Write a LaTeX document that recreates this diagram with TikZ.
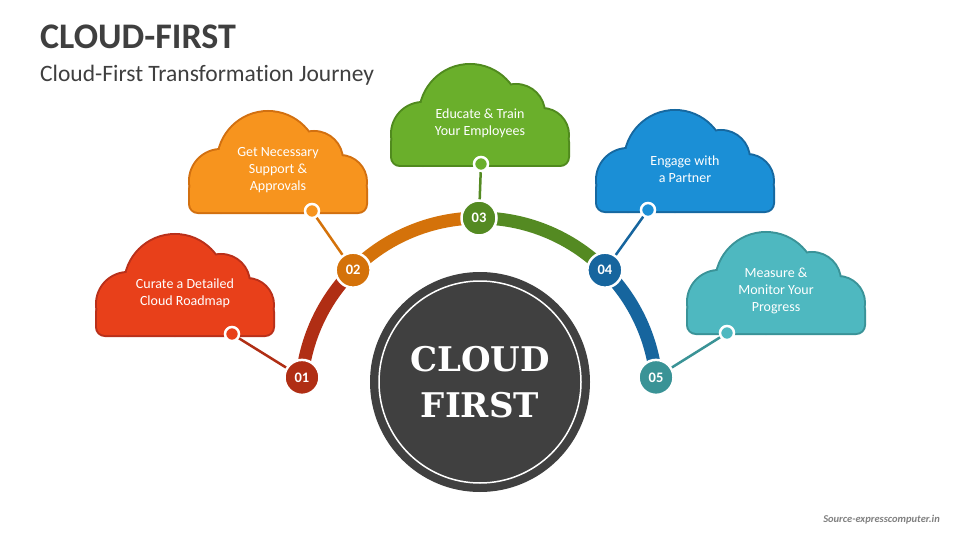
\documentclass[tikz,border=0pt]{standalone}
\usepackage{fontspec}
\setmainfont{Carlito}[Ligatures=NoCommon]
\newfontfamily\slabfont{DejaVu Serif}
\usepackage{xcolor}
\usetikzlibrary{calc}
\definecolor{redfill}{HTML}{E8401A}
\definecolor{redline}{HTML}{B9301A}
\definecolor{orangefill}{HTML}{F7941E}
\definecolor{orangeline}{HTML}{D27010}
\definecolor{greenfill}{HTML}{6AAF2B}
\definecolor{greenline}{HTML}{508A1E}
\definecolor{bluefill}{HTML}{1B8FD6}
\definecolor{blueline}{HTML}{1668A0}
\definecolor{tealfill}{HTML}{4EB8C0}
\definecolor{tealline}{HTML}{3A9398}
\definecolor{stepone}{HTML}{B02E14}
\definecolor{steptwo}{HTML}{D4720A}
\definecolor{stepthree}{HTML}{548A22}
\definecolor{stepfour}{HTML}{16659E}
\definecolor{stepfive}{HTML}{3A9396}
\definecolor{hubgray}{HTML}{404040}
\definecolor{titlegray}{HTML}{3F3F3F}
\tikzstyle{numdot} = [circle, minimum size=35pt, inner sep=0pt, draw=white, line width=2.5pt, text=white, font=\bfseries\fontsize{14.5}{14.5}\selectfont]
\tikzstyle{linkdot} = [circle, minimum size=14pt, inner sep=0pt, draw=white, line width=2.5pt]
\tikzstyle{linkline} = [line width=2.5pt]
\tikzstyle{arcseg} = [line width=13pt]
\tikzstyle{cloudtext} = [align=center, text=white, font=\fontsize{14}{17}\selectfont]
\newcommand{\cloudblob}[3]{%
  \begin{scope}[shift={(#1)}]
    \draw[#3, line width=4pt, rounded corners=8pt] (0,0) rectangle (176,31);
    \draw[#3, line width=4pt] (31,31) circle (31pt) (78,50) circle (50pt) (124,52) circle (28pt) (150,30) circle (26pt);
    \fill[#2, rounded corners=8pt] (0,0) rectangle (176,31);
    \fill[#2] (31,31) circle (31pt) (78,50) circle (50pt) (124,52) circle (28pt) (150,30) circle (26pt);
  \end{scope}}

\begin{document}
\begin{tikzpicture}[x=1pt, y=1pt]
	\useasboundingbox (0,0) rectangle (960,-540);
	\fill[white] (0,0) rectangle (960,-540);

	\node (title) [anchor=base west, inner sep=0pt, text=titlegray, font=\bfseries\fontsize{36}{36}\selectfont] at (40,-49) {CLOUD-FIRST};
	\node (subtitle) [anchor=base west, inner sep=0pt, text=titlegray, font=\fontsize{23.5}{23.5}\selectfont] at (40,-82) {Cloud-First Transformation Journey};
	\node (source) [anchor=base east, inner sep=0pt, text=gray, font=\bfseries\itshape\fontsize{10.5}{10.5}\selectfont] at (940,-522) {Source-expresscomputer.in};

	\coordinate (ctr) at (479,-396);
	\draw [arcseg, stepone] ($(ctr)+(174:178)$) arc[start angle=174, end angle=135, radius=178pt];
	\draw [arcseg, steptwo] ($(ctr)+(135:178)$) arc[start angle=135, end angle=90, radius=178pt];
	\draw [arcseg, stepthree] ($(ctr)+(90:178)$) arc[start angle=90, end angle=45, radius=178pt];
	\draw [arcseg, stepfour] ($(ctr)+(45:178)$) arc[start angle=45, end angle=6, radius=178pt];

	\node (hub) [circle, fill=hubgray, minimum size=220pt, inner sep=0pt, align=center, text=white, font=\slabfont\bfseries\fontsize{34}{46}\selectfont] at (480,-382) {CLOUD\\FIRST};
	\draw [white, line width=1.5pt] (hub.center) circle (101pt);

	\cloudblob{97,-335}{redfill}{redline}
	\cloudblob{190,-212}{orangefill}{orangeline}
	\cloudblob{392,-165}{greenfill}{greenline}
	\cloudblob{597,-211}{bluefill}{blueline}
	\cloudblob{688,-333}{tealfill}{tealline}

	\node (c1) [cloudtext] at (185,-293) {Curate a Detailed\\Cloud Roadmap};
	\node (c2) [cloudtext] at (278,-170) {Get Necessary\\Support \&\\Approvals};
	\node (c3) [cloudtext] at (480,-123) {Educate \& Train\\Your Employees};
	\node (c4) [cloudtext] at (685,-169) {Engage with\\a Partner};
	\node (c5) [cloudtext] at (776,-291) {Measure \&\\Monitor Your\\Progress};

	\node (n1) [numdot, fill=stepone] at ($(ctr)+(174:178)$) {01};
	\node (n2) [numdot, fill=steptwo] at ($(ctr)+(135:178)$) {02};
	\node (n3) [numdot, fill=stepthree] at ($(ctr)+(90:178)$) {03};
	\node (n4) [numdot, fill=stepfour] at ($(ctr)+(45:178)$) {04};
	\node (n5) [numdot, fill=stepfive] at ($(ctr)+(6:178)$) {05};

	\node (d1) [linkdot, fill=redfill] at (232,-334) {};
	\node (d2) [linkdot, fill=orangefill] at (312,-211) {};
	\node (d3) [linkdot, fill=greenfill] at (481,-164) {};
	\node (d4) [linkdot, fill=bluefill] at (648,-210) {};
	\node (d5) [linkdot, fill=tealfill] at (727,-333) {};

	\draw [linkline, stepone] (d1) -- (n1);
	\draw [linkline, steptwo] (d2) -- (n2);
	\draw [linkline, stepthree] (d3) -- (n3);
	\draw [linkline, stepfour] (d4) -- (n4);
	\draw [linkline, stepfive] (d5) -- (n5);
\end{tikzpicture}
\end{document}
